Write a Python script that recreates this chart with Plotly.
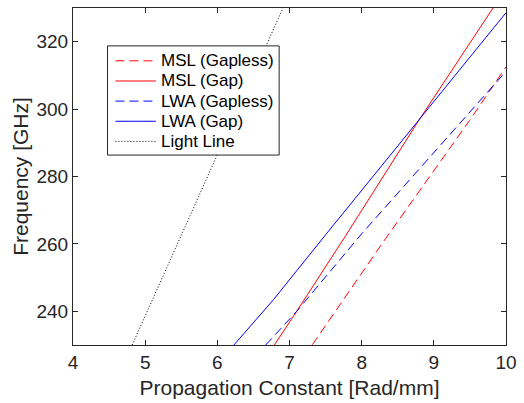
import plotly.graph_objects as go

# Data
msl_gapless_beta = [7.317, 8.014, 8.332, 9.494, 9.79, 10.0]
msl_gapless_freq = [230.1, 251.8, 261.6, 296.6, 306.0, 312.5]

msl_gap_beta = [6.79, 7.10, 7.78, 8.79, 9.82]
msl_gap_freq = [230.0, 240.0, 262.5, 296.6, 330.0]

lwa_gapless_beta = [6.67, 7.10, 8.00, 9.40, 9.79, 10.0]
lwa_gapless_freq = [230.0, 240.0, 263.0, 296.6, 306.1, 311.2]

lwa_gap_beta = [6.23, 6.78, 7.53, 8.79, 10.0]
lwa_gap_freq = [230.0, 243.5, 263.5, 296.6, 328.6]

light_beta = [4.82, 6.91]
light_freq = [230.0, 330.0]

series_names = ["MSL (Gapless)", "MSL (Gap)", "LWA (Gapless)", "LWA (Gap)", "Light Line"]

x_ticks = [4, 5, 6, 7, 8, 9, 10]
y_ticks = [240, 260, 280, 300, 320]

FONT = "Liberation Sans, Arial, Helvetica, sans-serif"
AX = "#262626"

styles = [
    dict(color="#FF0000", width=1, dash="9px,5px"),
    dict(color="#FF0000", width=1, dash="solid"),
    dict(color="#0000FF", width=1, dash="9px,5px"),
    dict(color="#0000FF", width=1, dash="solid"),
    dict(color="#000000", width=1, dash="1px,2px"),
]
xs = [msl_gapless_beta, msl_gap_beta, lwa_gapless_beta, lwa_gap_beta, light_beta]
ys = [msl_gapless_freq, msl_gap_freq, lwa_gapless_freq, lwa_gap_freq, light_freq]

fig = go.Figure()
for name, x, y, st in zip(series_names, xs, ys, styles):
    fig.add_trace(go.Scatter(x=x, y=y, mode="lines", name=name, line=st,
                             showlegend=False))

# ---- manual legend box (MATLAB style) ----
W_PLOT, H_PLOT = 439.0, 338.0   # plot area size in px
L0, T0 = 73.0, 7.0


def px_x(px):
    return (px - L0) / W_PLOT


def px_y(py):
    return 1 - (py - T0) / H_PLOT


shapes = [dict(type="rect", xref="paper", yref="paper",
               x0=px_x(108), x1=px_x(282), y0=px_y(154.5), y1=px_y(45),
               line=dict(color=AX, width=1), fillcolor="white", layer="above")]
annotations = []
row0, row_step = 60.0, 20.2
for i, (name, st) in enumerate(zip(series_names, styles)):
    ry = px_y(row0 + i * row_step)
    shapes.append(dict(type="line", xref="paper", yref="paper",
                       x0=px_x(116), x1=px_x(157), y0=ry, y1=ry,
                       line=st, layer="above"))
    annotations.append(dict(text=name, xref="paper", yref="paper",
                            x=px_x(160), y=ry, xanchor="left", yanchor="middle",
                            showarrow=False,
                            font=dict(family=FONT, size=17, color="#000000")))

axis_common = dict(
    showline=True, linecolor=AX, linewidth=1, mirror="ticks",
    ticks="inside", ticklen=5, tickcolor=AX, tickwidth=1,
    showgrid=False, zeroline=False,
    tickfont=dict(family=FONT, size=19, color=AX),
)

fig.update_layout(
    width=524, height=403,
    margin=dict(l=73, r=12, t=7, b=58),
    paper_bgcolor="white", plot_bgcolor="white",
    font=dict(family=FONT, color=AX),
    xaxis=dict(range=[4, 10], tickvals=x_ticks,
               title=dict(text="Propagation Constant [Rad/mm]",
                          font=dict(family=FONT, size=21, color=AX), standoff=8),
               **axis_common),
    yaxis=dict(range=[230, 330], tickvals=y_ticks,
               title=dict(text="Frequency [GHz]",
                          font=dict(family=FONT, size=21, color=AX), standoff=2),
               **axis_common),
    shapes=shapes,
    annotations=annotations,
    showlegend=False,
)

fig.write_html("out.html")
